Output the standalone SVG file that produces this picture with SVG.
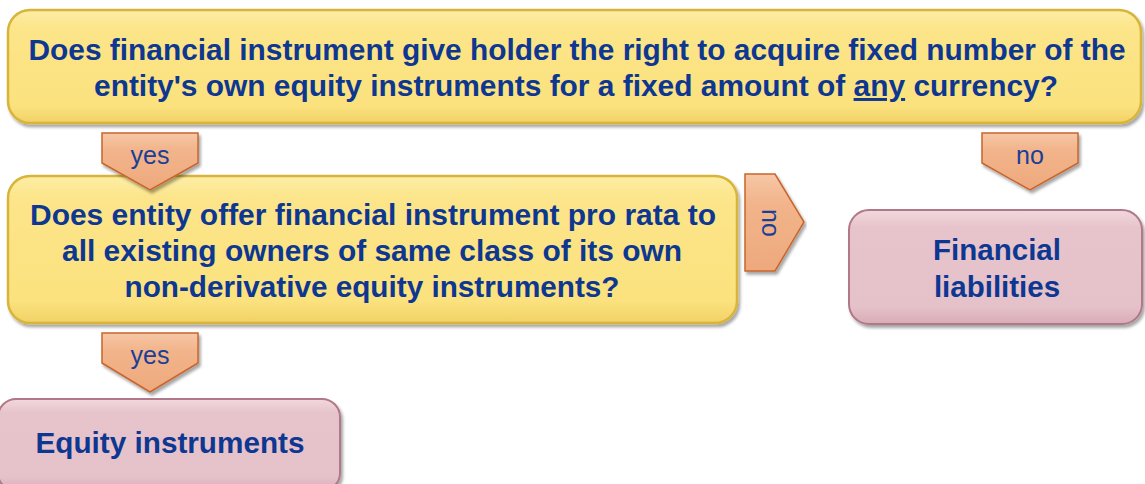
<svg xmlns="http://www.w3.org/2000/svg" width="1145" height="484" viewBox="0 0 1145 484">
  <defs>
    <linearGradient id="gYellow" x1="0" y1="0" x2="0" y2="1">
      <stop offset="0" stop-color="#fdeea6"/>
      <stop offset="0.15" stop-color="#fce58a"/>
      <stop offset="0.85" stop-color="#fbe27e"/>
      <stop offset="1" stop-color="#f1d166"/>
    </linearGradient>
    <linearGradient id="gPink" x1="0" y1="0" x2="0" y2="1">
      <stop offset="0" stop-color="#f1d8de"/>
      <stop offset="0.15" stop-color="#e7c4cb"/>
      <stop offset="0.85" stop-color="#e5c1c9"/>
      <stop offset="1" stop-color="#d8acb6"/>
    </linearGradient>
    <linearGradient id="gArrow" x1="0" y1="0" x2="0" y2="1">
      <stop offset="0" stop-color="#f6c7a6"/>
      <stop offset="0.3" stop-color="#f2b48b"/>
      <stop offset="1" stop-color="#eea97d"/>
    </linearGradient>
    <filter id="shadow" x="-5%" y="-10%" width="110%" height="125%">
      <feDropShadow dx="2" dy="3" stdDeviation="1.5" flood-color="#000" flood-opacity="0.35"/>
    </filter>
  </defs>
  <style>
    .ybox { fill: url(#gYellow); stroke: #d8b43a; stroke-width: 2.5; filter: url(#shadow); }
    .pbox { fill: url(#gPink); stroke: #b07888; stroke-width: 2; filter: url(#shadow); }
    .arrow { fill: url(#gArrow); stroke: #c8652c; stroke-width: 1.5; stroke-linejoin: miter; filter: url(#shadow); }
    .q { font-family: "Liberation Sans", Arial, sans-serif; font-weight: bold; font-size: 29.5px; fill: #0d3791; text-anchor: middle; }
    .lbl { font-family: "Liberation Sans", Arial, sans-serif; font-size: 25px; fill: #1a3f96; text-anchor: middle; }
  </style>
  <rect width="1145" height="484" fill="#ffffff"/>

  <g id="q1">
    <rect class="ybox" x="8" y="10" width="1133" height="113" rx="22" ry="22"/>
    <text class="q" x="577" y="60" textLength="1097" lengthAdjust="spacingAndGlyphs">Does financial instrument give holder the right to acquire fixed number of the</text>
    <text class="q" x="576" y="96" textLength="964" lengthAdjust="spacingAndGlyphs">entity's own equity instruments for a fixed amount of <tspan text-decoration="underline">any</tspan> currency?</text>
  </g>

  <g id="q2">
    <rect class="ybox" x="8" y="176" width="729" height="147" rx="22" ry="22"/>
    <text class="q" x="373" y="225" textLength="686" lengthAdjust="spacingAndGlyphs">Does entity offer financial instrument pro rata to</text>
    <text class="q" x="372" y="261" textLength="620" lengthAdjust="spacingAndGlyphs">all existing owners of same class of its own</text>
    <text class="q" x="372" y="297" textLength="495" lengthAdjust="spacingAndGlyphs">non-derivative equity instruments?</text>
  </g>

  <g id="financial-liabilities">
    <rect class="pbox" x="849" y="210" width="293" height="114" rx="20" ry="20"/>
    <text class="q" x="997" y="260">Financial</text>
    <text class="q" x="997" y="297">liabilities</text>
  </g>

  <g id="equity-instruments">
    <rect class="pbox" x="-2" y="399" width="342" height="92" rx="18" ry="18"/>
    <text class="q" x="170" y="453" textLength="269" lengthAdjust="spacingAndGlyphs">Equity instruments</text>
  </g>

  <g id="connectors">
    <g id="yes1">
      <polygon class="arrow" points="102,133 198,133 198,163 150,190 102,163"/>
      <text class="lbl" x="150" y="164">yes</text>
    </g>
    <g id="no1">
      <polygon class="arrow" points="982,133 1078,133 1078,163 1030,190 982,163"/>
      <text class="lbl" x="1030" y="164">no</text>
    </g>
    <g id="no2">
      <polygon class="arrow" points="745,174 775,174 804,222 775,271 745,271"/>
      <text class="lbl" transform="translate(762,223) rotate(90)" x="0" y="0">no</text>
    </g>
    <g id="yes2">
      <polygon class="arrow" points="102,333 198,333 198,363 150,392 102,363"/>
      <text class="lbl" x="150" y="364">yes</text>
    </g>
  </g>
</svg>
